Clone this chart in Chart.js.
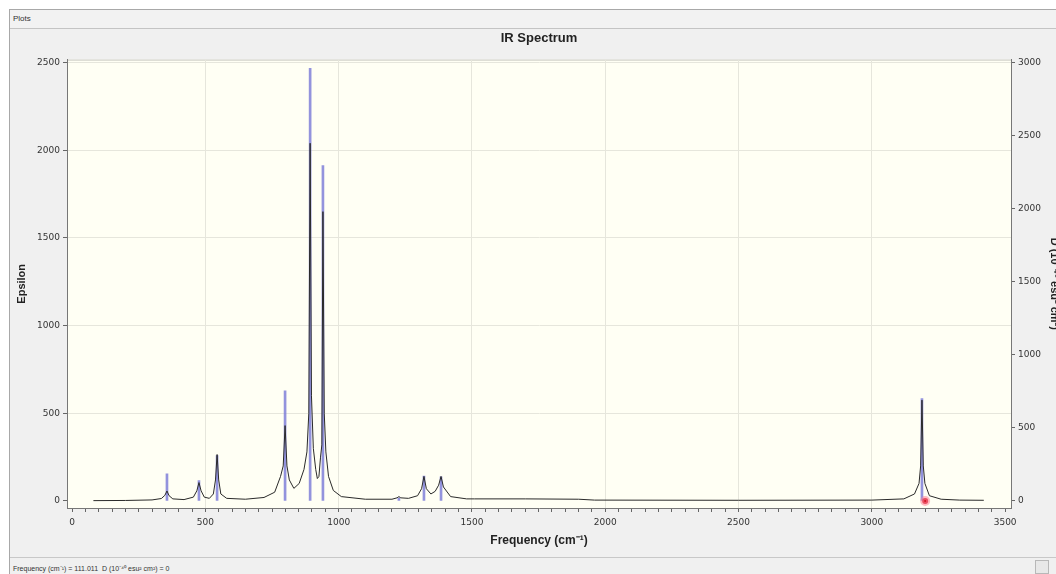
<!DOCTYPE html>
<html lang="en">
  <head>
    <meta charset="UTF-8" />
    <title>IR Spectrum</title>
    <script src="https://cdn.jsdelivr.net/npm/chart.js"></script>
    <style>
      html, body { margin: 0; padding: 0; width: 1056px; height: 574px; overflow: hidden; background: #ffffff; }
      #frame { position: absolute; left: 9px; top: 9px; width: 1060px; height: 570px; border-left: 1px solid #a8a8a8; border-top: 1px solid #a8a8a8; background: #f0f0f0; }
      #header { position: absolute; left: 10px; top: 10px; width: 1060px; height: 18px; border-bottom: 1px solid #c4c4c4; background: #f2f2f2; font: 8px "Liberation Sans", sans-serif; color: #333; }
      #header span { position: absolute; left: 3px; top: 4px; }
      #irChart { position: absolute; left: 8px; top: 28px; }
      #status { position: absolute; left: 10px; top: 557px; width: 1060px; height: 17px; border-top: 1px solid #c8c8c8; background: #f0f0f0; font: 7px "Liberation Sans", sans-serif; color: #333; }
      #status span { position: absolute; left: 3px; top: 6px; }
      #status i { position: absolute; left: 1025px; top: 2px; width: 12px; height: 12px; border: 1px solid #b8b8b8; background: #e8e8e8; }
    </style>
  </head>
  <body>
    <div id="frame"></div>
    <div id="header"><span>Plots</span></div>
    <canvas id="irChart" width="1062" height="528"></canvas>
    <div id="status"><span>Frequency (cm⁻¹) = 111.011&nbsp;&nbsp;D (10⁻⁴⁰ esu² cm²) = 0</span><i></i></div>

    <script>
      // broadened spectrum (Epsilon, left axis)
      const curveFreq = [80, 200, 300, 335, 348, 356, 364, 378, 420, 455, 468, 476, 484, 496, 515, 530, 538, 544, 550, 558, 580, 650, 720, 760, 782, 792, 799, 806, 815, 832, 852, 870, 881, 888, 893, 898, 905, 914, 920, 926, 932, 937, 941, 946, 952, 962, 980, 1010, 1100, 1200, 1219, 1226, 1233, 1262, 1296, 1311, 1320, 1329, 1346, 1362, 1375, 1384, 1393, 1420, 1480, 1510, 1700, 1900, 1960, 2500, 3000, 3120, 3160, 3177, 3183, 3188, 3193, 3199, 3216, 3260, 3330, 3420];
      const curveEps = [2, 3, 6, 14, 32, 57, 30, 12, 8, 22, 58, 105, 58, 22, 15, 40, 120, 265, 120, 40, 15, 10, 20, 50, 140, 200, 430, 200, 120, 72, 100, 180, 280, 500, 2040, 600, 300, 180, 128, 140, 250, 320, 1650, 500, 280, 140, 60, 25, 10, 10, 18, 25, 18, 15, 30, 70, 140, 70, 40, 55, 90, 140, 80, 25, 12, 12, 12, 10, 5, 4, 5, 12, 40, 100, 200, 575, 200, 100, 30, 10, 5, 4];

      // computed transitions (D, right axis)
      const stickFreq = [356, 476, 544, 799, 893, 941, 1226, 1320, 1384, 3188];
      const stickD = [185, 140, 310, 753, 2960, 2295, 20, 170, 165, 700];

      // cursor marker
      const markerFreq = [3200];
      const markerEps = [0];

      const epsTicks = [0, 500, 1000, 1500, 2000, 2500];
      const dTicks = [0, 500, 1000, 1500, 2000, 2500, 3000];
      const freqLabels = [0, 500, 1000, 1500, 2000, 2500, 3000, 3500];
      const freqMinor = [];
      for (let f = 0; f <= 3500; f += 50) freqMinor.push(f);

      const tickFont = { family: "DejaVu Sans", size: 9 };
      const titleFont = { family: "Liberation Sans", size: 12, weight: "bold" };

      const plotBackground = {
        id: "plotBackground",
        beforeDraw(chart) {
          const { ctx, chartArea: a } = chart;
          ctx.save();
          ctx.fillStyle = "#fffff4";
          ctx.fillRect(a.left, a.top, a.right - a.left, a.bottom - a.top);
          ctx.strokeStyle = "#c8c8c0";
          ctx.lineWidth = 1;
          ctx.beginPath();
          ctx.moveTo(a.left, a.top + 0.5);
          ctx.lineTo(a.right, a.top + 0.5);
          ctx.stroke();
          ctx.restore();
        },
      };

      const ctx = document.getElementById("irChart").getContext("2d");
      new Chart(ctx, {
        type: "line",
        data: {
          datasets: [
            {
              type: "scatter",
              label: "cursor",
              data: markerFreq.map((f, i) => ({ x: f, y: markerEps[i] })),
              yAxisID: "y",
              pointRadius: 3,
              pointBackgroundColor: "#d01020",
              pointBorderColor: "rgba(255, 130, 150, 0.55)",
              pointBorderWidth: 4,
              order: 0,
            },
            {
              type: "line",
              label: "Epsilon",
              data: curveFreq.map((f, i) => ({ x: f, y: curveEps[i] })),
              yAxisID: "y",
              borderColor: "#2a2a2a",
              borderWidth: 1,
              pointRadius: 0,
              tension: 0,
              fill: false,
              order: 1,
            },
            {
              type: "bar",
              label: "D",
              data: stickFreq.map((f, i) => ({ x: f, y: stickD[i] })),
              yAxisID: "y2",
              backgroundColor: "rgba(120, 120, 215, 0.8)",
              barThickness: 2,
              grouped: false,
              order: 2,
            },
          ],
        },
        options: {
          responsive: false,
          animation: false,
          events: [],
          layout: { padding: 0 },
          plugins: {
            legend: { display: false },
            tooltip: { enabled: false },
            title: {
              display: true,
              text: "IR Spectrum",
              color: "#222",
              font: { family: "Liberation Sans", size: 13, weight: "bold" },
              padding: { top: 3, bottom: 13 },
            },
          },
          scales: {
            x: {
              type: "linear",
              offset: false,
              min: -19,
              max: 3522,
              afterFit: (s) => { s.height = 48; },
              afterBuildTicks: (s) => { s.ticks = freqMinor.map((v) => ({ value: v })); },
              ticks: {
                autoSkip: false,
                maxRotation: 0,
                padding: 5,
                color: "#333",
                font: tickFont,
                callback: (v) => (freqLabels.includes(v) ? String(v) : ""),
              },
              grid: {
                offset: false,
                color: (c) => (c.tick && freqLabels.includes(c.tick.value) && c.tick.value > 0 && c.tick.value < 3500 ? "#e6e6dc" : "rgba(0,0,0,0)"),
                tickColor: "#666",
                tickLength: 4,
              },
              border: { color: "#777" },
              title: {
                display: true,
                text: "Frequency (cm⁻¹)",
                color: "#222",
                font: titleFont,
                padding: { top: 0, bottom: 8 },
              },
            },
            y: {
              position: "left",
              min: -40,
              max: 2517,
              afterFit: (s) => { s.width = 59; },
              afterBuildTicks: (s) => { s.ticks = epsTicks.map((v) => ({ value: v })); },
              ticks: { padding: 3, color: "#333", font: tickFont, callback: (v) => String(v) },
              grid: {
                color: (c) => (c.tick && c.tick.value > 0 ? "#e6e6dc" : "rgba(0,0,0,0)"),
                tickColor: "#666",
                tickLength: 4,
              },
              border: { color: "#777" },
              title: {
                display: true,
                text: "Epsilon",
                color: "#222",
                font: { family: "Liberation Sans", size: 11, weight: "bold" },
                padding: { top: 7, bottom: 0 },
              },
            },
            y2: {
              position: "right",
              min: -48,
              max: 3020,
              afterFit: (s) => { s.width = 59; },
              afterBuildTicks: (s) => { s.ticks = dTicks.map((v) => ({ value: v })); },
              ticks: { padding: 3, color: "#333", font: tickFont, callback: (v) => String(v) },
              grid: { drawOnChartArea: false, tickColor: "#666", tickLength: 4 },
              border: { color: "#777" },
              title: {
                display: true,
                text: "D (10⁻⁴⁰ esu² cm²)",
                color: "#222",
                font: { family: "Liberation Sans", size: 11, weight: "bold" },
                padding: { top: 9, bottom: 0 },
              },
            },
          },
        },
        plugins: [plotBackground],
      });
    </script>
  </body>
</html>
